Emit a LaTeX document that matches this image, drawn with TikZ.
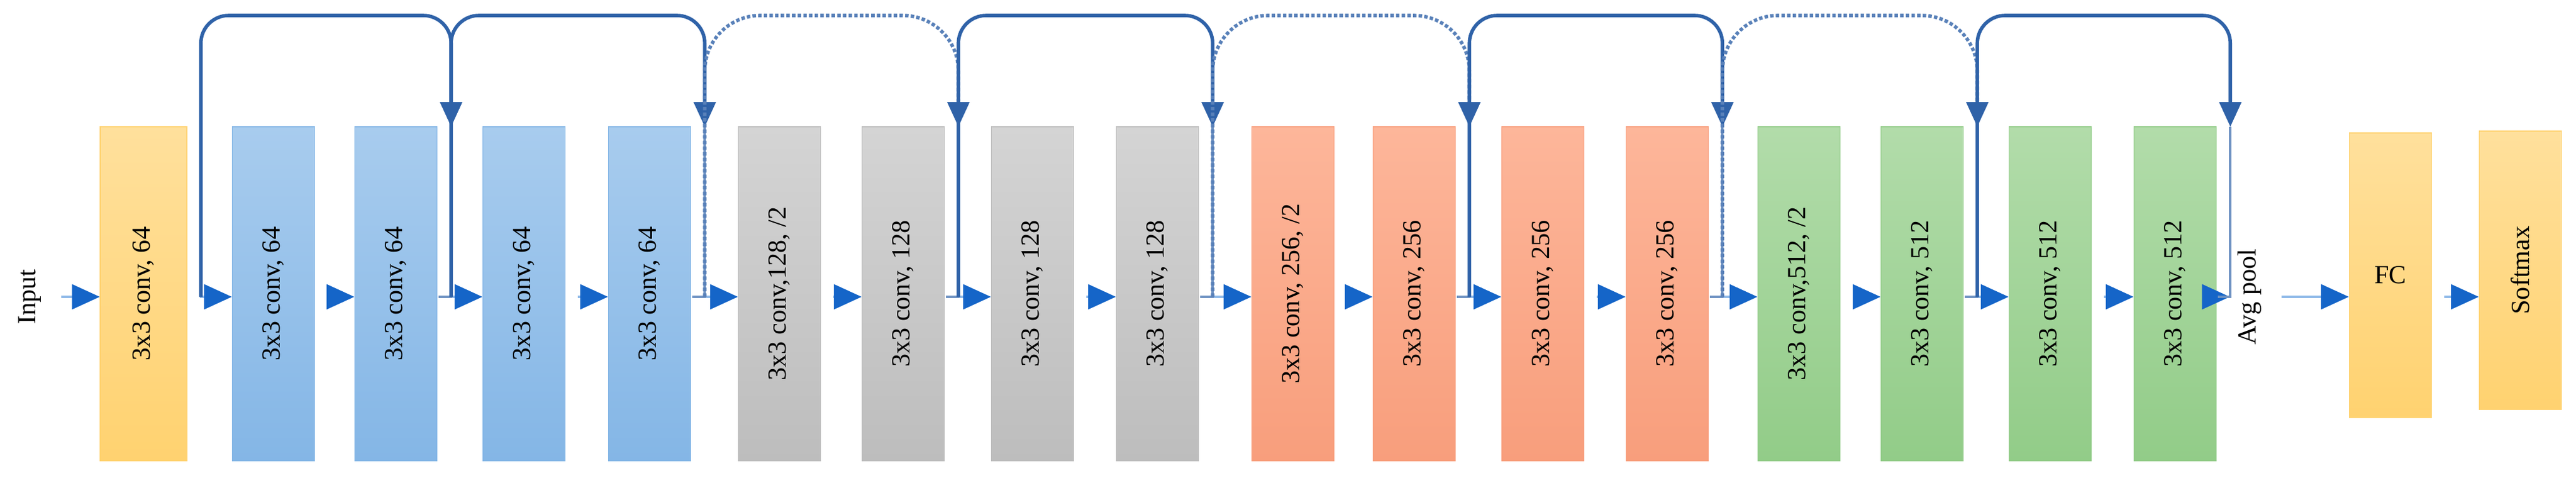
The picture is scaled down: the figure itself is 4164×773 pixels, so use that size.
\documentclass[tikz,border=0pt]{standalone}
\usepackage{graphicx}
\usepackage{fontspec}
\setmainfont{Liberation Serif}
\usetikzlibrary{arrows.meta,calc}
\definecolor{tipblue}{HTML}{1565C8}
\definecolor{lineblue}{HTML}{8DB8E8}
\definecolor{skipblue}{HTML}{2F62A8}
\begin{document}
\begin{tikzpicture}[
  x=0.1mm, y=-0.1mm,
  % GLOBAL CFG
  font=\fontsize{12}{14}\selectfont,
  % Styles
  layer/.style={% conv boxes
      rectangle,
      minimum width=13.3mm,
      minimum height=54mm,
      inner sep=0pt,
      },
  yel/.style={layer, top color=#1!90!white, bottom color=#1, draw=#1!80!orange},
  blu/.style={layer, top color=#1!75!white, bottom color=#1, draw=#1!85!black!10},
  yel/.default={FFD580},
  fillc/.style 2 args={layer, top color=#1, bottom color=#2, draw=#2},
  flow/.style={% main arrows
      draw=lineblue,
      line width=1.2pt,
      shorten <=2mm,
      -{Triangle[length=4.5mm,width=4mm,color=tipblue]},
      },
  skipS/.style={% solid shortcut
      draw=skipblue,
      line width=1.6pt,
      rounded corners=4.5mm,
      -{Triangle[length=4mm,width=3.5mm,color=skipblue]},
      },
  skipD/.style={% dotted shortcut
      draw=skipblue!80,
      line width=1.6pt,
      densely dotted,
      rounded corners=9mm,
      -{Triangle[length=4mm,width=3.5mm,color=skipblue]},
      },
  drop/.style={draw=skipblue!70, line width=1pt},
  ]
  \useasboundingbox (0,0) rectangle (4164,773);

  \definecolor{ya}{HTML}{FFE09C}\definecolor{yb}{HTML}{FFD270}
  \definecolor{ba}{HTML}{A8CCEE}\definecolor{bb}{HTML}{84B6E6}
  \definecolor{ga}{HTML}{D4D4D4}\definecolor{gb}{HTML}{BDBDBD}
  \definecolor{oa}{HTML}{FDB69A}\definecolor{ob}{HTML}{F89E7C}
  \definecolor{na}{HTML}{B2DCAA}\definecolor{nb}{HTML}{92CC88}

  % inputs and layers
  \node [rotate=90] (input) at (48,480) {Input};
  \node [fillc={ya}{yb}, minimum width=14mm] (b1) at (232,475) {\rotatebox{90}{3x3 conv, 64}};
  \node [fillc={ba}{bb}] (b2) at (442,475) {\rotatebox{90}{3x3 conv, 64}};
  \node [fillc={ba}{bb}] (b3) at (640,475) {\rotatebox{90}{3x3 conv, 64}};
  \node [fillc={ba}{bb}] (b4) at (847,475) {\rotatebox{90}{3x3 conv, 64}};
  \node [fillc={ba}{bb}] (b5) at (1050,475) {\rotatebox{90}{3x3 conv, 64}};
  \node [fillc={ga}{gb}] (b6) at (1260,475) {\rotatebox{90}{3x3 conv,128, /2}};
  \node [fillc={ga}{gb}] (b7) at (1460,475) {\rotatebox{90}{3x3 conv, 128}};
  \node [fillc={ga}{gb}] (b8) at (1669,475) {\rotatebox{90}{3x3 conv, 128}};
  \node [fillc={ga}{gb}] (b9) at (1871,475) {\rotatebox{90}{3x3 conv, 128}};
  \node [fillc={oa}{ob}] (b10) at (2090,475) {\rotatebox{90}{3x3 conv, 256, /2}};
  \node [fillc={oa}{ob}] (b11) at (2286,475) {\rotatebox{90}{3x3 conv, 256}};
  \node [fillc={oa}{ob}] (b12) at (2494,475) {\rotatebox{90}{3x3 conv, 256}};
  \node [fillc={oa}{ob}] (b13) at (2695,475) {\rotatebox{90}{3x3 conv, 256}};
  \node [fillc={na}{nb}] (b14) at (2908,475) {\rotatebox{90}{3x3 conv,512, /2}};
  \node [fillc={na}{nb}] (b15) at (3107,475) {\rotatebox{90}{3x3 conv, 512}};
  \node [fillc={na}{nb}] (b16) at (3314,475) {\rotatebox{90}{3x3 conv, 512}};
  \node [fillc={na}{nb}] (b17) at (3516,475) {\rotatebox{90}{3x3 conv, 512}};
  \node [rotate=90] (pool) at (3636,480) {Avg pool};
  \node [fillc={ya}{yb}, minimum height=46mm] (fc) at (3864,445) {FC};
  \node [fillc={ya}{yb}, minimum height=45mm] (soft) at (4074,437) {\rotatebox{90}{Softmax}};

  % main flow
  \draw [flow] (input.south) -- (b1.west |- input);
  \foreach \a/\b in {1/2,2/3,3/4,4/5,5/6,6/7,7/8,8/9,9/10,10/11,11/12,12/13,13/14,14/15,15/16,16/17}
    \draw [flow] (b\a.east |- input) -- (b\b.west |- input);
  \draw [flow] (b17.east |- input) -- (pool.north);
  \draw [flow] (pool.south) -- (fc.west |- pool);
  \draw [flow] (fc.east |- pool) -- (soft.west |- pool);

  % shortcut points
  \coordinate (top) at (0,25);
  \coordinate (btop) at (0,205);
  \foreach \i in {1,3,5,7,9,11,13,15,17}
    \coordinate (s\i) at ($(b\i.east |- input)+(22,0)$);

  % shortcuts
  \foreach \a/\b/\st in {1/3/skipS,3/5/skipS,5/7/skipD,7/9/skipS,9/11/skipD,11/13/skipS,13/15/skipD,15/17/skipS}{
    \draw [\st] (s\a) -- (s\a |- top) -- (s\b |- top) -- (s\b |- btop);
    \draw [drop] (s\b |- btop) -- (s\b) -- ++(-20,0);
  }
\end{tikzpicture}
\end{document}
